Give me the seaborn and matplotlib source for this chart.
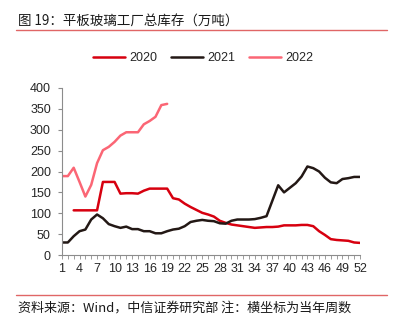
import numpy as np
import pandas as pd
import matplotlib
matplotlib.use("Agg")
import matplotlib.pyplot as plt
import seaborn as sns
from matplotlib.lines import Line2D
from matplotlib.ticker import MultipleLocator

# Weekly total flat-glass inventory at plants (10k tonnes)
weeks_2020 = list(range(3, 53))
inv_2020 = [107, 107, 107, 107, 107, 175, 175, 175, 147, 148, 148, 147, 154, 159,
            159, 159, 159, 136, 133, 123, 115, 108, 101, 97, 92, 82, 77, 73, 71,
            69, 67, 65, 66, 67, 67, 68, 71, 71, 71, 72, 72, 69, 57, 48, 38, 36,
            35, 34, 30, 29]
weeks_2021 = list(range(1, 53))
inv_2021 = [30, 30, 45, 57, 61, 85, 97, 88, 74, 69, 65, 68, 62, 62, 57, 57, 52, 52,
            57, 61, 63, 69, 79, 82, 84, 82, 81, 76, 75, 82, 85, 85, 85, 86, 89, 93,
            130, 167, 150, 161, 172, 188, 212, 208, 200, 185, 174, 172, 182, 184,
            187, 187]
weeks_2022 = list(range(1, 20))
inv_2022 = [189, 189, 209, 175, 140, 168, 220, 251, 259, 271, 286, 294, 294, 294,
            313, 321, 331, 359, 362]

years = ["2020", "2021", "2022"]
colors = ["#d7000f", "#231815", "#fb6675"]
x_ticks = list(range(1, 53, 3))
y_ticks = list(range(0, 401, 50))

df = pd.concat([
    pd.DataFrame({"week": weeks_2020, "value": inv_2020, "year": "2020"}),
    pd.DataFrame({"week": weeks_2021, "value": inv_2021, "year": "2021"}),
    pd.DataFrame({"week": weeks_2022, "value": inv_2022, "year": "2022"}),
])

sns.set_style("white")
plt.rcParams["font.family"] = ["Liberation Sans", "Noto Sans CJK SC", "DejaVu Sans"]
cjk = ["Noto Sans CJK SC", "DejaVu Sans"]

W, H = 398, 329
fig = plt.figure(figsize=(W / 100, H / 100), dpi=100)
ax = fig.add_axes([62 / W, 1 - 255 / H, 298 / W, 167 / H])

sns.lineplot(data=df, x="week", y="value", hue="year", hue_order=years,
             palette=colors, linewidth=1.8, ax=ax, legend=False,
             estimator=None, sort=False)

ax.set_xlim(1, 52)
ax.set_ylim(0, 400)
ax.set_xticks(x_ticks)
ax.set_xticklabels([str(t) for t in x_ticks])
ax.xaxis.set_minor_locator(MultipleLocator(1))
ax.set_yticks(y_ticks)
ax.set_xlabel("")
ax.set_ylabel("")

for side in ["top", "right"]:
    ax.spines[side].set_visible(False)
for side in ["left", "bottom"]:
    ax.spines[side].set_color("#8c8c8c")
    ax.spines[side].set_linewidth(0.8)

ax.tick_params(axis="y", which="major", direction="out", length=3, width=0.8,
               color="#8c8c8c", labelsize=9, pad=5, left=True)
ax.tick_params(axis="x", which="both", direction="out", length=3, width=0.6,
               color="#8c8c8c", labelsize=9, pad=2.5, bottom=True)

handles = [Line2D([], [], color=c, linewidth=1.8) for c in colors]
fig.legend(handles, years, loc="center", bbox_to_anchor=(203 / W, 1 - 58 / H),
           ncol=3, frameon=False, fontsize=9, handlelength=2.6,
           handletextpad=0.3, columnspacing=1.1)

# Header, rules and source note
fig.text(18 / W, 1 - 22 / H, "图 19：平板玻璃工厂总库存（万吨）", family=cjk,
         fontsize=9.7, va="center", ha="left", color="#1a1a1a")
fig.add_artist(Line2D([16 / W, 387 / W], [1 - 30 / H, 1 - 30 / H],
                      color="#e06666", linewidth=1.0))
fig.add_artist(Line2D([16 / W, 387 / W], [1 - 295 / H, 1 - 295 / H],
                      color="#e06666", linewidth=1.0))
fig.text(18 / W, 1 - 308 / H, "资料来源：Wind，中信证券研究部 注：横坐标为当年周数",
         family=cjk, fontsize=9.4, va="center", ha="left", color="#1a1a1a")

fig.savefig("out.png", dpi=100)
